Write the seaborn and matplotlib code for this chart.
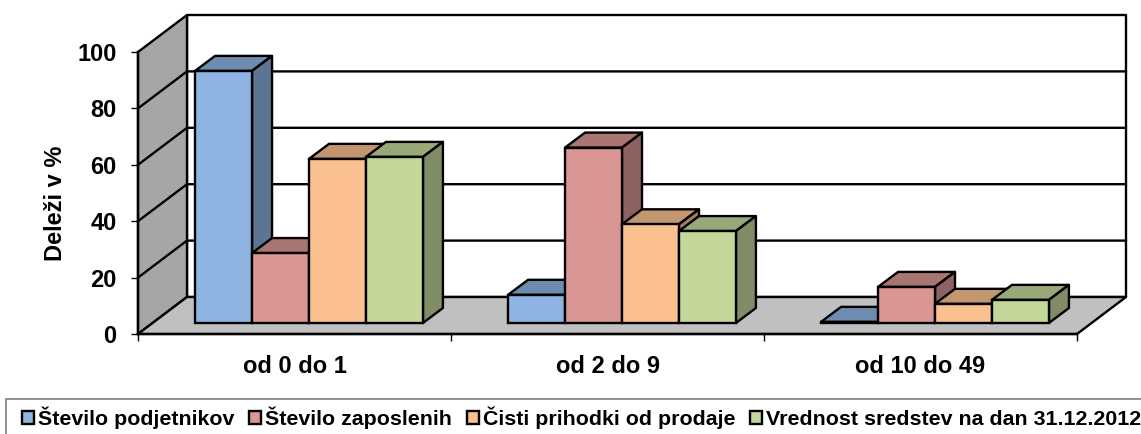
import pandas as pd
import seaborn as sns
import matplotlib.pyplot as plt
import numpy as np
from matplotlib.colors import to_rgb
from matplotlib.patches import Patch, Polygon, Rectangle
from matplotlib.transforms import Affine2D, IdentityTransform

groups = ["od 0 do 1", "od 2 do 9", "od 10 do 49"]
series_names = ["Število podjetnikov", "Število zaposlenih", "Čisti prihodki od prodaje",
                "Vrednost sredstev na dan 31.12.2012"]
podjetniki = [89.4, 10.0, 0.4]
zaposleni = [24.8, 62.2, 12.8]
prihodki = [58.2, 35.0, 6.8]
sredstva = [58.9, 32.6, 8.2]
colors = ["#8DB4E2", "#D99694", "#FAC090", "#C4D79B"]
y_ticks = [0, 20, 40, 60, 80, 100]

W, H = 1141, 434
DEPTH = (49, 37)       # back wall offset, px
BAR_SHIFT = (14.5, 11) # bars stand inside the floor, px
BAR_DEPTH = (20, 15)
LW = 1.7

sns.set_style("white")
plt.rcParams['font.family'] = ['Liberation Sans', 'DejaVu Sans']
plt.rcParams['font.weight'] = 'bold'
plt.rcParams['text.color'] = 'black'
plt.rcParams['axes.labelcolor'] = 'black'
plt.rcParams['xtick.color'] = 'black'
plt.rcParams['ytick.color'] = 'black'

rows = []
for name, vals in zip(series_names, [podjetniki, zaposleni, prihodki, sredstva]):
    for g, v in zip(groups, vals):
        rows.append({'group': g, 'series': name, 'value': v})
df = pd.DataFrame(rows)

fig = plt.figure(figsize=(W / 100, H / 100), dpi=100)
ax = fig.add_axes([138 / W, (H - 334) / H, 939 / W, 282 / H])
ax.patch.set_alpha(0)

sns.barplot(data=df, x='group', y='value', hue='series', palette=colors, saturation=1,
            width=0.728, gap=0, edgecolor='black', linewidth=LW, legend=False, ax=ax)
ax.set_xlim(-0.5, 2.5)
ax.set_ylim(0, 100)
bars = sorted(ax.patches, key=lambda p: p.get_x())

def shade(c, f):
    return tuple(np.array(to_rgb(c)) * f)

def poly(points, face, z):
    ax.add_patch(Polygon(points, closed=True, facecolor=face, edgecolor='black', linewidth=LW,
                         transform=IdentityTransform(), clip_on=False, zorder=z, joinstyle='round'))

# walls and floor, built from the front plane of the axes
x0, y0 = ax.transData.transform((-0.5, 0))
x1, y1 = ax.transData.transform((2.5, 100))
dx, dy = DEPTH
poly([(x0, y0), (x0 + dx, y0 + dy), (x0 + dx, y1 + dy), (x0, y1)], '#A6A6A6', 0.5)
poly([(x0 + dx, y0 + dy), (x1 + dx, y0 + dy), (x1 + dx, y1 + dy), (x0 + dx, y1 + dy)], 'white', 0.4)
poly([(x0, y0), (x1, y0), (x1 + dx, y0 + dy), (x0 + dx, y0 + dy)], '#C0C0C0', 0.6)
for t in y_ticks[1:-1]:
    _, yt = ax.transData.transform((0, t))
    ax.plot([x0, x0 + dx, x1 + dx], [yt, yt + dy, yt + dy], color='black', lw=LW,
            transform=IdentityTransform(), clip_on=False, zorder=0.55)

# fake 3d: each bar gets a top and a side, painted left to right
shift = Affine2D().translate(*BAR_SHIFT)
tr = ax.transData + shift
bx, by = BAR_DEPTH
z = 2
for p in bars:
    face = p.get_facecolor()
    (xa, ya), (xb, yb) = tr.transform([(p.get_x(), 0), (p.get_x() + p.get_width(), p.get_height())])
    poly([(xa, yb), (xb, yb), (xb + bx, yb + by), (xa + bx, yb + by)], shade(face[:3], 0.78), z)
    poly([(xb, ya), (xb + bx, ya + by), (xb + bx, yb + by), (xb, yb)], shade(face[:3], 0.65), z)
    p.set_transform(tr)
    p.set_clip_on(False)
    p.set_zorder(z + 0.5)
    z += 1

# axes
for s in ['top', 'right']:
    ax.spines[s].set_visible(False)
for s in ['left', 'bottom']:
    ax.spines[s].set_linewidth(LW)
    ax.spines[s].set_color('black')
    ax.spines[s].set_zorder(50)
ax.set_yticks(y_ticks)
ax.tick_params(axis='y', length=5, width=1, color='black', pad=10.5, labelsize=17, left=True)
ax.tick_params(axis='x', which='major', length=0, pad=15, labelsize=17)
ax.set_xticks([-0.5, 0.5, 1.5, 2.5], minor=True)
ax.tick_params(axis='x', which='minor', length=5, width=1, color='black', bottom=True)
ax.set_xlabel('')
ax.set_ylabel('Deleži v %', fontsize=17, fontweight='bold')
ax.yaxis.set_label_coords((67 - 138) / 939, 0.465)

# legend
fig.add_artist(Rectangle((5.5 / W, -0.05), 1.1, (H - 398.5) / H + 0.05, transform=fig.transFigure,
                         facecolor='white', edgecolor='#808080', linewidth=1.2))
handles = [Patch(facecolor=c, edgecolor='black', linewidth=LW) for c in colors]
fig.legend(handles, series_names, loc='center left', bbox_to_anchor=(22 / W, (H - 418) / H),
           ncol=4, frameon=False, fontsize=15.4, handlelength=0.56, handleheight=0.56,
           handletextpad=0.2, columnspacing=0.68, borderpad=0, borderaxespad=0)

plt.savefig('out.png', dpi=100)
plt.close()
